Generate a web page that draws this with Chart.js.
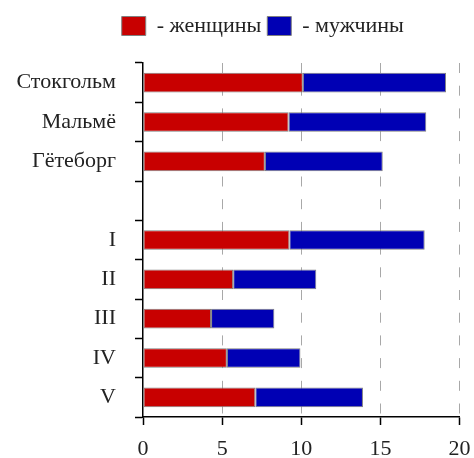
<!DOCTYPE html>
<html>
<head>
<meta charset="utf-8">
<script src="https://cdn.jsdelivr.net/npm/chart.js@4"></script>
<style>
    html, body { margin: 0; padding: 0; background: #fff; }
    #wrap { width: 474px; height: 458px; }
</style>
</head>
<body>
<div id="wrap"><canvas id="myChart"></canvas></div>
<script>
const categories = ["Стокгольм", "Мальмё", "Гётеборг", "", "I", "II", "III", "IV", "V"];
const women = [10.1, 9.2, 7.7, null, 9.25, 5.7, 4.3, 5.3, 7.1];
const men = [9.05, 8.7, 7.45, null, 8.55, 5.25, 4.0, 4.65, 6.8];
const seriesNames = ["- женщины", "- мужчины"];
const xMin = 0, xMax = 20, xStep = 5;

const FONT = "'Liberation Serif', 'Times New Roman', serif";
const TEXT = "#222";

// legend needs more room below it and sits a bit to the right
const legendSpace = {
    id: "legendSpace",
    beforeInit(chart) {
        const fit = chart.legend.fit;
        chart.legend.fit = function () {
            fit.bind(chart.legend)();
            this.height = 54;
        };
    },
    afterLayout(chart) {
        chart.legend.left += 33;
        chart.legend.right += 33;
    }
};

const myChart = new Chart("myChart", {
    type: "bar",
    data: {
        labels: categories,
        datasets: [{
            label: seriesNames[0],
            data: women,
            backgroundColor: "#c80000",
            borderColor: "#808080",
            borderWidth: 1,
            borderSkipped: false
        }, {
            label: seriesNames[1],
            data: men,
            backgroundColor: "#0000b4",
            borderColor: "#808080",
            borderWidth: 1,
            borderSkipped: false
        }]
    },
    options: {
        indexAxis: "y",
        responsive: true,
        maintainAspectRatio: false,
        animation: false,
        datasets: { bar: { categoryPercentage: 1, barPercentage: 0.5 } },
        layout: { padding: { top: 9, right: 14.5, left: 0, bottom: 0 } },
        plugins: {
            tooltip: { enabled: false },
            legend: {
                position: "top",
                labels: {
                    boxWidth: 24,
                    boxHeight: 19,
                    padding: 6,
                    color: TEXT,
                    font: { family: FONT, size: 22 }
                }
            }
        },
        scales: {
            x: {
                stacked: true,
                min: xMin,
                max: xMax,
                ticks: {
                    stepSize: xStep,
                    color: TEXT,
                    padding: 11,
                    font: { family: FONT, size: 22 }
                },
                grid: {
                    color: ctx => ctx.tick && ctx.tick.value === 0 ? "rgba(0,0,0,0)" : "#a8a8a8",
                    lineWidth: 1,
                    tickColor: "#000",
                    tickLength: 8,
                    tickWidth: 1.5
                },
                border: { color: "#000", width: 1.5, dash: [10, 12.7] },
                afterFit: s => {
                    s.height = 41;
                    s.paddingLeft = 0;
                    s.paddingRight = 0;
                }
            },
            y: {
                stacked: true,
                ticks: {
                    color: TEXT,
                    padding: 19,
                    font: { family: FONT, size: 22 }
                },
                grid: {
                    offset: true,
                    drawOnChartArea: false,
                    tickColor: "#000",
                    tickLength: 8,
                    tickWidth: 1.5
                },
                border: { color: "#000", width: 1.5 },
                afterFit: s => {
                    s.width = 143;
                    s.paddingTop = 0;
                    s.paddingBottom = 0;
                }
            }
        }
    },
    plugins: [legendSpace]
});
</script>
</body>
</html>
